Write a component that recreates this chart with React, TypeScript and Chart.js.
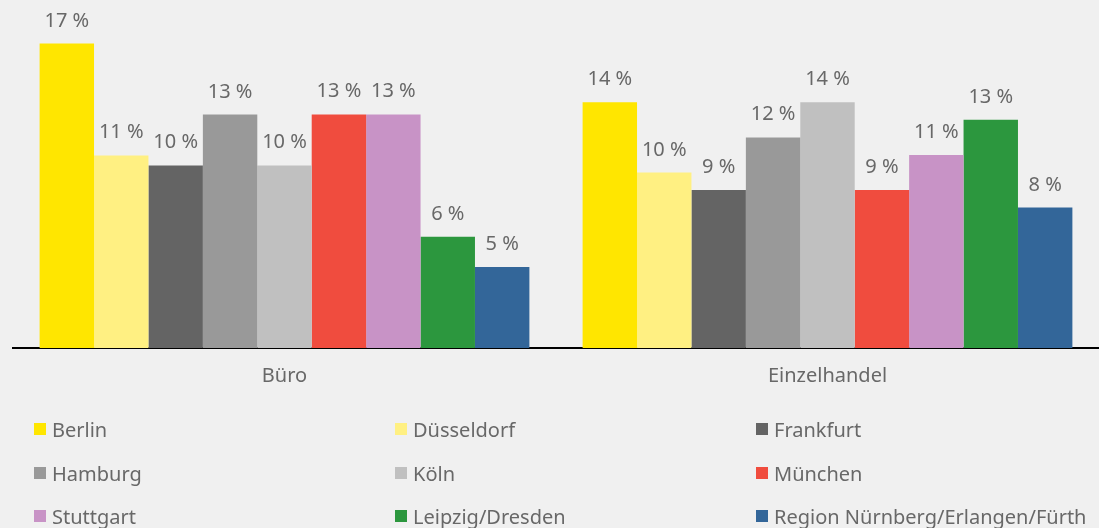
import React, { useEffect, useRef } from "react";
import { Chart, registerables } from "chart.js";

Chart.register(...registerables);

const categories = ["Büro", "Einzelhandel"];
const cities = [
  "Berlin",
  "Düsseldorf",
  "Frankfurt",
  "Hamburg",
  "Köln",
  "München",
  "Stuttgart",
  "Leipzig/Dresden",
  "Region Nürnberg/Erlangen/Fürth",
];
const colors = [
  "#FFE600",
  "#FFF082",
  "#646464",
  "#999999",
  "#C0C0C0",
  "#F04C3E",
  "#C893C6",
  "#2C973E",
  "#336699",
];
// values per city: [Büro, Einzelhandel]
const berlin = [17.35, 14.0];
const duesseldorf = [10.97, 10.0];
const frankfurt = [10.4, 9.0];
const hamburg = [13.3, 12.0];
const koeln = [10.4, 14.0];
const muenchen = [13.31, 9.0];
const stuttgart = [13.31, 11.0];
const leipzigDresden = [6.34, 13.0];
const nuernberg = [4.61, 8.0];
const seriesValues = [berlin, duesseldorf, frankfurt, hamburg, koeln, muenchen, stuttgart, leipzigDresden, nuernberg];

const FONT = "'Noto Sans', sans-serif";
const TEXT = "#686868";

const labelPlugin = {
  id: "valueLabels",
  afterDatasetsDraw(chart: any) {
    const ctx = chart.ctx;
    ctx.save();
    ctx.font = `20px ${FONT}`;
    ctx.fillStyle = TEXT;
    ctx.textAlign = "center";
    ctx.textBaseline = "alphabetic";
    chart.data.datasets.forEach((ds: any, i: number) => {
      const meta = chart.getDatasetMeta(i);
      meta.data.forEach((bar: any, j: number) => {
        const v = ds.data[j];
        ctx.fillText(`${Math.round(v)} %`, bar.x, bar.y - 17);
      });
    });
    ctx.restore();
  },
};

export default function App() {
  const ref = useRef<HTMLCanvasElement>(null);
  useEffect(() => {
    document.body.style.margin = "0";
    document.body.style.background = "#f0f0f0";
    const chart = new Chart(ref.current!, {
      type: "bar",
      data: {
        labels: categories,
        datasets: cities.map((c, i) => ({
          label: c,
          data: seriesValues[i],
          backgroundColor: colors[i],
          borderWidth: 0,
          barPercentage: 1,
          categoryPercentage: 0.902,
        })),
      },
      options: {
        animation: false,
        responsive: false,
        maintainAspectRatio: false,
        layout: { padding: { left: 13, right: 0, top: 0, bottom: 124 } },
        plugins: { legend: { display: false }, tooltip: { enabled: false } },
        scales: {
          x: {
            grid: { display: false, drawTicks: false },
            border: { display: true, color: "#000000", width: 2 },
            ticks: { color: TEXT, font: { family: FONT, size: 20 }, padding: 16 },
          },
          y: {
            display: false,
            min: 0,
            max: 19.83,
          },
        },
      },
      plugins: [labelPlugin],
    });
    return () => chart.destroy();
  }, []);

  const colX = [34, 395, 756];
  const rowY = [429, 473, 516];
  return (
    <div style={{ position: "relative", width: 1099, height: 528, background: "#f0f0f0", overflow: "hidden" }}>
      <canvas ref={ref} width={1099} height={528} style={{ display: "block" }} />
      {cities.map((c, i) => (
        <div
          key={c}
          style={{
            position: "absolute",
            left: colX[i % 3],
            top: rowY[Math.floor(i / 3)] - 14,
            height: 28,
            display: "flex",
            alignItems: "center",
            fontFamily: FONT,
            fontSize: 20,
            color: TEXT,
            whiteSpace: "nowrap",
          }}
        >
          <span style={{ display: "inline-block", width: 12, height: 12, background: colors[i], marginRight: 6 }} />
          <span>{c}</span>
        </div>
      ))}
    </div>
  );
}
